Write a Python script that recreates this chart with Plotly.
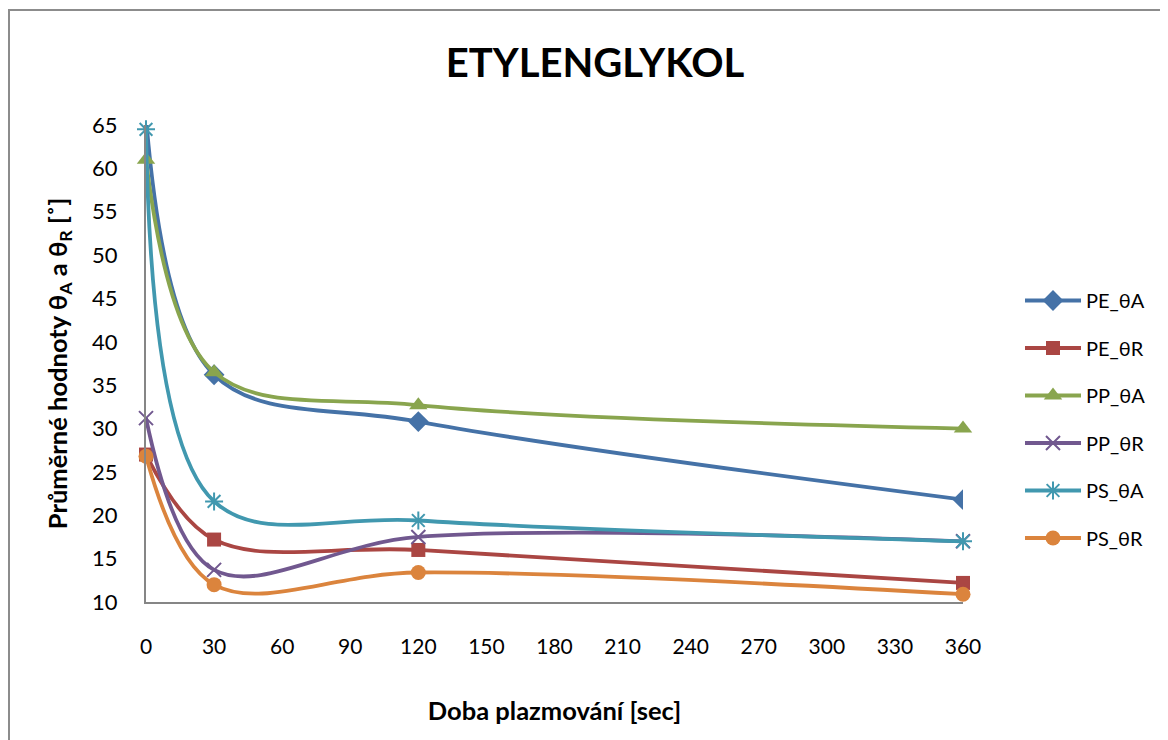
import plotly.graph_objects as go

# ---- data ----
times = [0, 30, 120, 360]
pe_theta_a = [66.0, 36.2, 30.8, 21.8]
pe_theta_r = [27.0, 17.2, 16.0, 12.2]
pp_theta_a = [61.0, 36.5, 32.7, 30.0]
pp_theta_r = [31.2, 13.7, 17.5, 17.0]
ps_theta_a = [64.5, 21.6, 19.4, 17.0]
ps_theta_r = [26.8, 12.0, 13.4, 10.9]

series_names = ["PE_θA", "PE_θR", "PP_θA", "PP_θR", "PS_θA", "PS_θR"]
series_values = [pe_theta_a, pe_theta_r, pp_theta_a, pp_theta_r, ps_theta_a, ps_theta_r]
colors = ["#4572A7", "#AA4643", "#89A54E", "#71588F", "#4198AF", "#DB843D"]
symbols = ["diamond", "square", "triangle-up", "x-thin-open", "asterisk-open", "circle"]
sizes = [16, 14, 16, 14, 15, 15]
clip = [True, False, False, False, False, False]

x_ticks = list(range(0, 361, 30))
y_ticks = list(range(10, 66, 5))

FONT = "Lato, 'Open Sans', sans-serif"

fig = go.Figure()
for i, (name, vals) in enumerate(zip(series_names, series_values)):
    marker = dict(symbol=symbols[i], size=sizes[i], color=colors[i])
    if symbols[i].endswith("open"):
        marker["line"] = dict(width=2, color=colors[i])
    fig.add_trace(go.Scatter(
        x=times, y=vals, name=name, mode="lines+markers",
        line=dict(color=colors[i], width=3.8, shape="spline", smoothing=1.0),
        marker=marker, legendgroup=name, cliponaxis=clip[i],
    ))

# page body has an 8px margin, so the figure is placed at (8, 8)
W, H = 1160, 732
L, T = 138, 117
R = W - 955
B = H - 594
pw, ph = W - L - R, H - T - B

# chart-area border (Excel style), extending past the right and bottom edges
fig.add_shape(type="rect", xref="paper", yref="paper",
              x0=(1 - L) / pw, x1=(W + 20 - L) / pw,
              y0=(ph + T - (H + 20)) / ph, y1=(ph + T - 2) / ph,
              line=dict(color="#8c8c8c", width=2), fillcolor="rgba(0,0,0,0)", layer="below")

fig.update_layout(
    width=W, height=H,
    margin=dict(l=L, r=R, t=T, b=B, autoexpand=False),
    paper_bgcolor="white", plot_bgcolor="white",
    font=dict(family=FONT, color="black"),
    title=dict(text="<b>ETYLENGLYKOL</b>", x=587 / W, xanchor="center",
               y=1 - 55 / H, yanchor="middle", font=dict(size=40, family=FONT)),
    showlegend=True,
    legend=dict(x=(1012 - L) / pw, xanchor="left", y=(ph + T - 273) / ph, yanchor="top",
                font=dict(size=20, family=FONT), itemwidth=56,
                traceorder="grouped", tracegroupgap=18.5, bgcolor="rgba(0,0,0,0)"),
)

fig.update_xaxes(
    range=[0, 360], tickvals=x_ticks, ticktext=[str(v) for v in x_ticks],
    showgrid=False, zeroline=False, showline=True, linecolor="#868686", linewidth=2,
    ticks="", tickfont=dict(size=21, family=FONT), ticklabelstandoff=25,
    title=dict(text="<b>Doba plazmování [sec]</b>", font=dict(size=25.5, family=FONT), standoff=45),
)
fig.update_yaxes(
    range=[10, 65], tickvals=y_ticks, ticktext=[str(v) for v in y_ticks],
    showgrid=False, zeroline=False, showline=True, linecolor="#868686", linewidth=2,
    ticks="", tickfont=dict(size=22, family=FONT), ticklabelstandoff=22,
    title=dict(text="<b>Průměrné hodnoty θ<sub>A</sub> a θ<sub>R</sub> [˚]</b>",
               font=dict(size=25.5, family=FONT), standoff=17),
)

fig.write_html("out.html")
